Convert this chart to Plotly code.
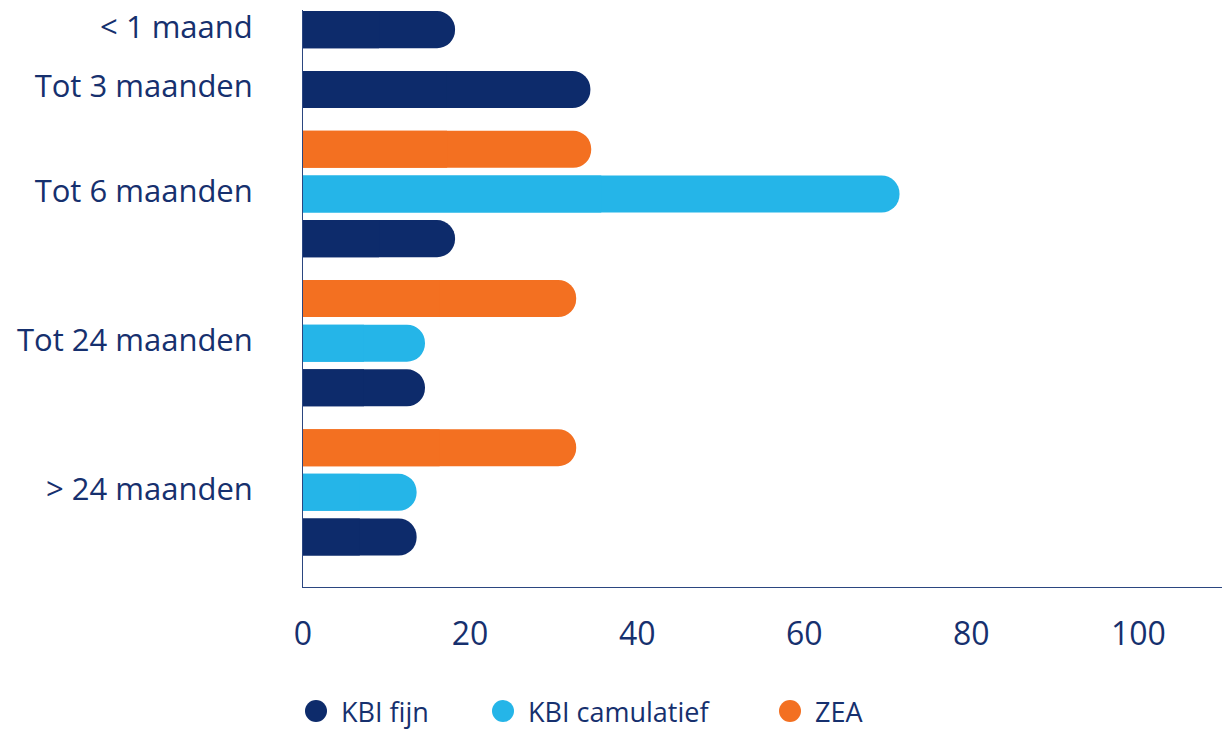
import plotly.graph_objects as go

# Duration buckets (top to bottom) and the series drawn inside each bucket
categories = ["< 1 maand", "Tot 3 maanden", "Tot 6 maanden", "Tot 24 maanden", "> 24 maanden"]
series_names = ["ZEA", "KBI camulatief", "KBI fijn"]  # order within a bucket, top to bottom
legend_order = ["KBI fijn", "KBI camulatief", "ZEA"]

kbi_fijn = [18.2, 34.4, 18.2, 14.6, 13.6]
kbi_camulatief = [None, None, 71.4, 14.6, 13.6]
zea = [None, None, 34.5, 32.7, 32.7]

x_ticks = [0, 20, 40, 60, 80, 100]

colors = {"KBI fijn": "#0D2B6B", "KBI camulatief": "#25B5E8", "ZEA": "#F37021"}
text_color = "#16306E"
font_family = "'Open Sans', sans-serif"

values = {"KBI fijn": kbi_fijn, "KBI camulatief": kbi_camulatief, "ZEA": zea}

W, H = 1222, 729
M_L, M_R, M_T, M_B = 303, 0, 10, 142
PLOT_W = W - M_L - M_R
PLOT_H = H - M_T - M_B

# Lay out one slot per present bar, with an extra gap between buckets
GROUP_GAP = 0.34
slot_pos = {name: [None] * len(categories) for name in series_names}
group_centers = []
pos = 0.0
for ci in range(len(categories)):
    present = [n for n in series_names if values[n][ci] is not None]
    start = pos
    for n in present:
        slot_pos[n][ci] = pos
        pos += 1
    group_centers.append((start + pos - 1) / 2)
    pos += GROUP_GAP
last_slot = pos - GROUP_GAP - 1

BAR_WIDTH = 0.83

fig = go.Figure()
for name in legend_order:
    xs = [v for v in values[name] if v is not None]
    ys = [p for v, p in zip(values[name], slot_pos[name]) if v is not None]
    # rounded-end bar
    fig.add_trace(go.Bar(
        x=xs, y=ys, orientation="h", width=BAR_WIDTH,
        marker=dict(color=colors[name], cornerradius="50%", line=dict(width=0)),
        showlegend=False, hoverinfo="x+name", name=name,
    ))
    # square-off the end sitting on the axis
    fig.add_trace(go.Bar(
        x=[v / 2 for v in xs], y=ys, orientation="h", width=BAR_WIDTH,
        marker=dict(color=colors[name], line=dict(width=0)),
        showlegend=False, hoverinfo="skip", name=name,
    ))

# Legend row below the axis: round swatch + label per series
LEGEND_Y_PX = 711
LEGEND_SWATCH_X_PX = [316, 503, 790]
SWATCH_R = 11
shapes, annotations = [], []


def px_to_paper_x(px):
    return (px - M_L) / PLOT_W


def px_to_paper_y(py):
    return (H - M_B - py) / PLOT_H


for name, cx in zip(legend_order, LEGEND_SWATCH_X_PX):
    shapes.append(dict(
        type="circle", xref="paper", yref="paper",
        x0=px_to_paper_x(cx - SWATCH_R), x1=px_to_paper_x(cx + SWATCH_R),
        y0=px_to_paper_y(LEGEND_Y_PX + SWATCH_R), y1=px_to_paper_y(LEGEND_Y_PX - SWATCH_R),
        fillcolor=colors[name], line=dict(width=0),
    ))
    annotations.append(dict(
        text=name, xref="paper", yref="paper",
        x=px_to_paper_x(cx + 24), y=px_to_paper_y(LEGEND_Y_PX),
        xanchor="left", yanchor="middle", showarrow=False, borderpad=0,
        font=dict(size=27, color=text_color, family=font_family),
    ))

fig.update_layout(
    width=W, height=H,
    barmode="overlay",
    plot_bgcolor="white", paper_bgcolor="white",
    margin=dict(l=M_L, r=M_R, t=M_T, b=M_B, autoexpand=False),
    font=dict(family=font_family, color=text_color, size=32),
    showlegend=False,
    shapes=shapes,
    annotations=annotations,
)
fig.update_xaxes(
    range=[0, 110], tickvals=x_ticks, ticktext=[str(t) for t in x_ticks],
    showgrid=False, zeroline=False, showline=True, linecolor="#2B4680", linewidth=1,
    ticks="", ticklabelstandoff=19, tickfont=dict(size=32, color=text_color),
)
fig.update_yaxes(
    range=[last_slot + 1.12, -0.44], tickvals=group_centers, ticktext=categories,
    showgrid=False, zeroline=False, showline=True, linecolor="#2B4680", linewidth=1,
    ticks="", ticklabelstandoff=43, ticklabelshift=3,
    tickfont=dict(size=31, color=text_color),
)

fig.write_html("out.html")
